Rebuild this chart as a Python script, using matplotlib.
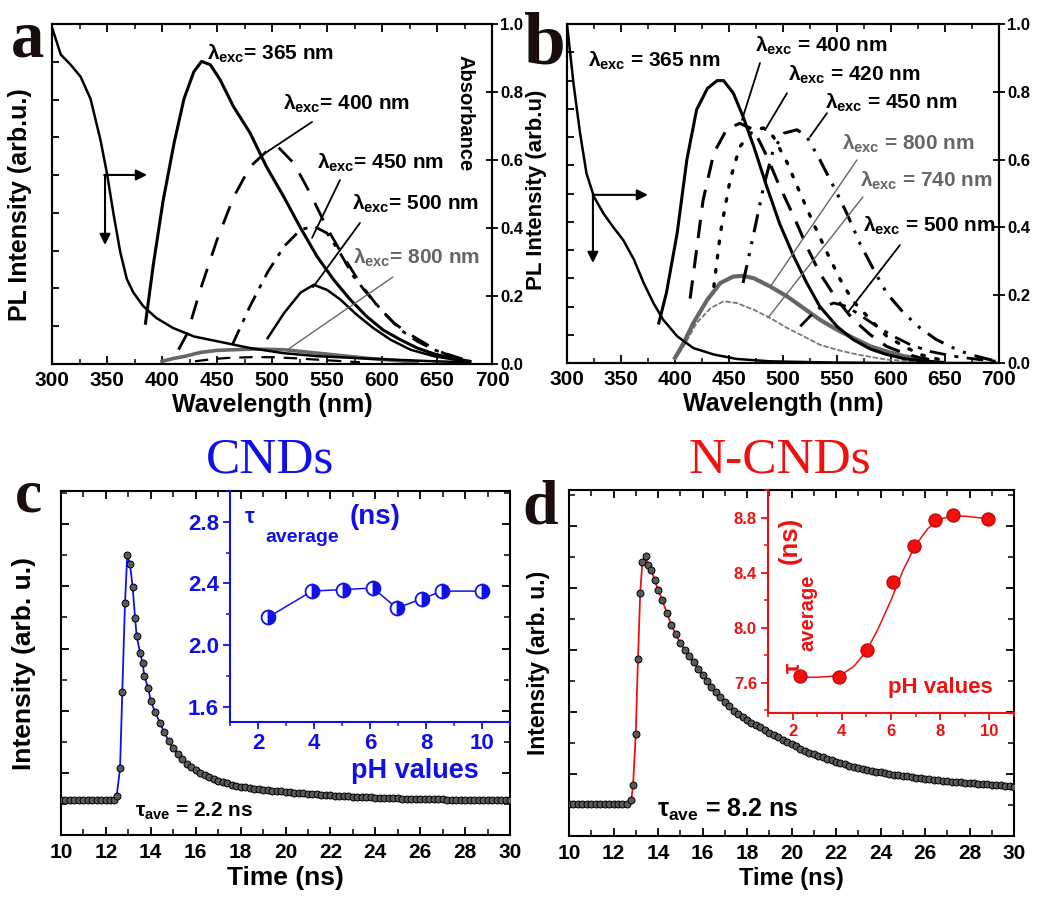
import numpy as np
import matplotlib
matplotlib.use('Agg')
import matplotlib.pyplot as plt
from matplotlib.ticker import MultipleLocator, FormatStrFormatter, NullFormatter

plt.rcParams['font.family'] = ['Liberation Sans', 'DejaVu Sans']
plt.rcParams['font.weight'] = 'bold'
plt.rcParams['axes.labelweight'] = 'bold'
plt.rcParams['mathtext.fontset'] = 'custom'
plt.rcParams['mathtext.rm'] = 'Liberation Sans:bold'
plt.rcParams['mathtext.bf'] = 'Liberation Sans:bold'
plt.rcParams['mathtext.it'] = 'Liberation Sans'
plt.rcParams['axes.linewidth'] = 1.5

# ---------------- panel a: CNDs spectra ----------------
a_abs_wl = [300, 308, 317, 326, 335, 344, 350, 356, 362, 368, 374, 383, 395, 410, 429, 450, 480, 510, 541, 586, 647, 680]
a_abs = [0.99, 0.91, 0.88, 0.845, 0.78, 0.66, 0.56, 0.44, 0.33, 0.25, 0.21, 0.17, 0.135, 0.106, 0.081, 0.067, 0.047, 0.032, 0.023, 0.016, 0.008, 0.005]

a_wl_365 = [385, 392, 401, 411, 420, 429, 436, 444, 453, 465, 480, 495, 511, 526, 541, 556, 571, 586, 601, 617, 632, 647, 662, 680]
a_pl_365 = [0.12, 0.29, 0.48, 0.65, 0.78, 0.86, 0.89, 0.88, 0.835, 0.757, 0.68, 0.58, 0.49, 0.40, 0.316, 0.248, 0.19, 0.14, 0.10, 0.071, 0.047, 0.03, 0.018, 0.008]
a_wl_400 = [415, 423, 435, 450, 465, 480, 495, 505, 520, 535, 550, 565, 580, 596, 611, 626, 641, 656, 671]
a_pl_400 = [0.042, 0.09, 0.22, 0.365, 0.49, 0.58, 0.625, 0.64, 0.59, 0.50, 0.40, 0.316, 0.238, 0.17, 0.12, 0.086, 0.057, 0.032, 0.013]
a_wl_450 = [464, 480, 496, 511, 526, 538, 550, 562, 574, 586, 602, 617, 632, 647, 665, 677]
a_pl_450 = [0.057, 0.17, 0.27, 0.346, 0.395, 0.405, 0.385, 0.326, 0.258, 0.209, 0.15, 0.10, 0.067, 0.042, 0.023, 0.011]
a_wl_500 = [496, 511, 526, 538, 550, 562, 577, 592, 608, 626, 647, 671]
a_pl_500 = [0.076, 0.15, 0.21, 0.233, 0.218, 0.19, 0.145, 0.106, 0.071, 0.042, 0.023, 0.01]
a_wl_800 = [400, 410, 420, 435, 450, 465, 483, 497, 511, 526, 541, 556, 571, 586, 602, 617, 632]
a_pl_800 = [0.008, 0.016, 0.022, 0.034, 0.04, 0.042, 0.044, 0.043, 0.042, 0.037, 0.032, 0.027, 0.022, 0.017, 0.013, 0.009, 0.005]
a_wl_low = [430, 445, 460, 480, 500, 520, 540, 560, 580]
a_pl_low = [0.008, 0.014, 0.018, 0.02, 0.02, 0.017, 0.013, 0.009, 0.005]

# ---------------- panel b: N-CNDs spectra ----------------
b_abs_wl = [300, 306, 312, 318, 325, 334, 343, 352, 362, 371, 380, 389, 402, 417, 436, 457, 488, 534, 596, 700]
b_abs = [1.0, 0.825, 0.68, 0.56, 0.49, 0.44, 0.40, 0.363, 0.305, 0.236, 0.177, 0.128, 0.079, 0.044, 0.025, 0.012, 0.005, 0.002, 0.0, 0.0]

b_wl_365 = [385, 392, 402, 411, 420, 430, 439, 445, 454, 463, 473, 485, 497, 510, 522, 534, 550, 565, 581, 596, 612, 627, 648]
b_pl_365 = [0.118, 0.206, 0.383, 0.60, 0.747, 0.81, 0.833, 0.833, 0.796, 0.727, 0.638, 0.52, 0.41, 0.314, 0.236, 0.167, 0.108, 0.069, 0.041, 0.025, 0.013, 0.007, 0.002]
b_wl_400 = [414, 420, 426, 436, 448, 460, 473, 485, 497, 510, 522, 534, 550, 565, 581, 596, 612, 627, 645]
b_pl_400 = [0.19, 0.334, 0.48, 0.62, 0.69, 0.707, 0.688, 0.61, 0.52, 0.432, 0.344, 0.265, 0.187, 0.128, 0.083, 0.049, 0.029, 0.015, 0.005]
b_wl_420 = [436, 442, 451, 460, 473, 482, 491, 504, 516, 528, 541, 553, 565, 581, 596, 612, 627, 645]
b_pl_420 = [0.226, 0.383, 0.54, 0.638, 0.688, 0.693, 0.668, 0.59, 0.50, 0.413, 0.324, 0.246, 0.182, 0.128, 0.079, 0.049, 0.025, 0.01]
b_wl_450 = [463, 473, 482, 491, 501, 513, 522, 534, 547, 559, 571, 584, 596, 612, 627, 642, 658, 673, 689, 698]
b_pl_450 = [0.236, 0.383, 0.52, 0.629, 0.678, 0.688, 0.668, 0.60, 0.52, 0.442, 0.354, 0.275, 0.206, 0.147, 0.103, 0.069, 0.044, 0.025, 0.012, 0.005]
b_wl_500 = [516, 525, 534, 547, 559, 571, 587, 602, 618, 636, 658, 682, 698]
b_pl_500 = [0.108, 0.138, 0.162, 0.177, 0.167, 0.142, 0.108, 0.079, 0.054, 0.034, 0.02, 0.01, 0.005]
b_wl_800 = [400, 408, 417, 430, 442, 454, 463, 473, 488, 504, 519, 534, 550, 565, 581, 596, 612, 633]
b_pl_800 = [0.015, 0.059, 0.118, 0.187, 0.236, 0.255, 0.257, 0.25, 0.226, 0.196, 0.162, 0.128, 0.098, 0.074, 0.049, 0.034, 0.02, 0.01]
b_wl_740 = [400, 408, 420, 433, 445, 457, 473, 488, 504, 519, 534, 550, 565, 581, 596, 627]
b_pl_740 = [0.01, 0.049, 0.118, 0.162, 0.182, 0.177, 0.157, 0.133, 0.103, 0.079, 0.054, 0.039, 0.0275, 0.018, 0.01, 0.004]

# ---------------- panel c: CNDs decay ----------------
c_t_rise = [10.0, 10.2, 10.4, 10.6, 10.8, 11.0, 11.2, 11.4, 11.6, 11.8, 12.0, 12.2, 12.35,
            12.48, 12.63, 12.73, 12.85, 12.95, 13.07, 13.19, 13.3, 13.37, 13.52, 13.64, 13.71, 13.89]
c_i_rise = [1.12, 1.12, 1.12, 1.12, 1.12, 1.12, 1.12, 1.12, 1.12, 1.12, 1.12, 1.12, 1.13,
            1.25, 2.14, 4.6, 7.45, 9.0, 8.73, 7.98, 6.99, 6.4, 5.87, 5.52, 5.11, 4.72]
# tail, one value every 0.2 ns from 14.0 to 30.0 ns
c_i_tail = [4.30, 3.95, 3.62, 3.30, 3.03, 2.80, 2.60, 2.44, 2.30, 2.19,
            2.08, 2.00, 1.93, 1.86, 1.80, 1.75, 1.70, 1.66, 1.62, 1.59,
            1.56, 1.53, 1.51, 1.49, 1.47, 1.46, 1.44, 1.43, 1.41, 1.40,
            1.38, 1.37, 1.36, 1.35, 1.34, 1.33, 1.32, 1.31, 1.30, 1.29,
            1.28, 1.27, 1.26, 1.25, 1.24, 1.23, 1.23, 1.22, 1.21, 1.21,
            1.20, 1.20, 1.19, 1.19, 1.18, 1.18, 1.17, 1.17, 1.17, 1.16,
            1.16, 1.16, 1.15, 1.15, 1.15, 1.15, 1.14, 1.14, 1.14, 1.14,
            1.14, 1.13, 1.13, 1.13, 1.13, 1.13, 1.13, 1.12, 1.12, 1.12, 1.12]

# ---------------- panel d: N-CNDs decay ----------------
d_t_rise = [10.0, 10.2, 10.4, 10.6, 10.8, 11.0, 11.2, 11.4, 11.6, 11.8, 12.0, 12.2, 12.4, 12.6,
            12.8, 12.88, 13.0, 13.1, 13.2, 13.3, 13.45, 13.55, 13.7, 13.85]
d_i_rise = [1.03, 1.03, 1.03, 1.03, 1.03, 1.03, 1.03, 1.03, 1.03, 1.03, 1.03, 1.03, 1.03, 1.04,
            1.16, 1.65, 3.28, 5.71, 7.83, 8.85, 9.04, 8.74, 8.58, 8.25]
d_i_tail = [7.95, 7.60, 7.18, 6.82, 6.50, 6.24, 6.00, 5.80, 5.60, 5.40,
            5.20, 5.00, 4.82, 4.64, 4.47, 4.32, 4.18, 4.04, 3.92, 3.83,
            3.74, 3.66, 3.58, 3.50, 3.41, 3.32, 3.25, 3.18, 3.10, 3.03,
            2.96, 2.89, 2.82, 2.75, 2.69, 2.63, 2.58, 2.54, 2.49, 2.45,
            2.40, 2.36, 2.32, 2.27, 2.23, 2.20, 2.17, 2.14, 2.11, 2.08,
            2.05, 2.03, 2.00, 1.98, 1.96, 1.94, 1.92, 1.90, 1.88, 1.86,
            1.84, 1.83, 1.81, 1.80, 1.78, 1.77, 1.75, 1.74, 1.73, 1.72,
            1.71, 1.70, 1.69, 1.68, 1.67, 1.66, 1.65, 1.64, 1.62, 1.61, 1.59]
t_tail = np.round(np.arange(14.0, 30.001, 0.2), 1)

# ---------------- insets: lifetime vs pH ----------------
ph_c = [2.36, 3.93, 5.04, 6.1, 6.96, 7.86, 8.57, 10.0]
tau_c = [2.18, 2.35, 2.36, 2.37, 2.24, 2.30, 2.35, 2.35]
ph_d = [2.3, 3.87, 5.04, 6.1, 6.94, 7.77, 8.52, 9.94]
tau_d = [7.65, 7.64, 7.84, 8.33, 8.59, 8.78, 8.82, 8.79]
fit_ph_d = [2.3, 3.0, 3.5, 4.0, 4.5, 5.0, 5.5, 6.0, 6.5, 7.0, 7.5, 8.0, 8.5, 9.0, 9.5, 10.0]
fit_tau_d = [7.64, 7.64, 7.645, 7.66, 7.72, 7.83, 8.0, 8.2, 8.42, 8.6, 8.72, 8.79, 8.81, 8.81, 8.80, 8.79]

BLUE = '#1010e8'
RED = '#f01010'
GREY = '#666666'

W, H = 1038, 902
fig = plt.figure(figsize=(W / 100, H / 100), dpi=100)


def axes_px(l, t, r, b):
    return fig.add_axes([l / W, 1 - b / H, (r - l) / W, (b - t) / H])


def bold_ticks(ax):
    for lab in ax.get_xticklabels() + ax.get_yticklabels():
        lab.set_fontweight('bold')


def spectrum_axes(ax, nleft):
    ax.set_xlim(300, 700)
    ax.set_ylim(0, 1)
    ax.xaxis.set_major_locator(MultipleLocator(50))
    ax.xaxis.set_minor_locator(MultipleLocator(25))
    ax.set_yticks(np.arange(1, nleft) / nleft)
    ax.yaxis.set_major_formatter(NullFormatter())
    ax.tick_params(axis='x', which='both', direction='in', top=True, labelsize=15, pad=5)
    ax.tick_params(axis='x', which='major', length=6, width=1.3)
    ax.tick_params(axis='x', which='minor', length=3.5, width=1.1)
    ax.tick_params(axis='y', direction='in', right=False, length=5, width=1.3)
    ax.set_xlabel('Wavelength (nm)', fontsize=18, labelpad=2)
    ax2 = ax.twinx()
    ax2.set_ylim(0, 1)
    ax2.yaxis.set_major_locator(MultipleLocator(0.2))
    ax2.yaxis.set_minor_locator(MultipleLocator(0.1))
    ax2.yaxis.set_major_formatter(FormatStrFormatter('%.1f'))
    ax2.tick_params(axis='y', which='major', direction='inout', length=8, width=1.3, labelsize=12, pad=2)
    ax2.tick_params(axis='y', which='minor', direction='in', length=0)
    bold_ticks(ax)
    bold_ticks(ax2)
    return ax2


def lam(ax, x, y, nm, color='k'):
    ax.text(x, y, r'$\lambda_{\mathbf{exc}}$' + nm, fontsize=15, color=color,
            ha='left', va='baseline')


def pointer(ax, p0, p1, color='k', lw=1.3):
    ax.annotate('', xy=p1, xytext=p0,
                arrowprops=dict(arrowstyle='-', color=color, lw=lw, shrinkA=0, shrinkB=0))


def arrow(ax, p0, p1):
    ax.annotate('', xy=p1, xytext=p0,
                arrowprops=dict(arrowstyle='-|>', color='k', lw=1.5, mutation_scale=16,
                                shrinkA=0, shrinkB=0))


# ---- a ----
axa = axes_px(52, 24, 492, 364)
axa2 = spectrum_axes(axa, 9)
axa.plot(a_wl_800, a_pl_800, color=GREY, lw=2.6)
axa.plot(a_wl_low, a_pl_low, color='k', lw=1.6, ls=(0, (6, 4)))
axa.plot(a_wl_365, a_pl_365, color='k', lw=2.2)
axa.plot(a_wl_400, a_pl_400, color='k', lw=2.0, ls=(0, (7, 5)))
axa.plot(a_wl_450, a_pl_450, color='k', lw=2.0, ls=(0, (6, 3, 1.5, 3)))
axa.plot(a_wl_500, a_pl_500, color='k', lw=1.8)
axa2.plot(a_abs_wl, a_abs, color='k', lw=1.8)
axa.set_ylabel('PL Intensity (arb.u.)', fontsize=18)
axa.yaxis.set_label_coords(-0.045, 0.47)
lam(axa, 441, 0.894, '= 365 nm')
lam(axa, 510, 0.747, '= 400 nm')
lam(axa, 541, 0.574, '= 450 nm')
lam(axa, 573, 0.453, '= 500 nm')
lam(axa, 574, 0.294, '= 800 nm', GREY)
pointer(axa, (536.4, 0.712), (495.5, 0.624))
pointer(axa, (561.8, 0.541), (536.4, 0.371))
pointer(axa, (580, 0.415), (537.3, 0.226))
pointer(axa, (610, 0.256), (513.6, 0.041), GREY, 1.0)
arrow(axa, (347.5, 0.556), (386.4, 0.556))
arrow(axa, (348.2, 0.556), (348.2, 0.35))
axa.text(675.5, 0.738, 'Absorbance', rotation=-90, fontsize=14.5, ha='center', va='center')

# ---- b ----
axb = axes_px(567, 24, 999, 363)
axb2 = spectrum_axes(axb, 12)
axb.plot(b_wl_740, b_pl_740, color='#777777', lw=1.3, ls=(0, (3, 1)))
axb.plot(b_wl_800, b_pl_800, color=GREY, lw=3.0)
axb.plot(b_wl_365, b_pl_365, color='k', lw=2.2)
axb.plot(b_wl_400, b_pl_400, color='k', lw=2.2, ls=(0, (6, 4)))
axb.plot(b_wl_420, b_pl_420, color='k', lw=2.4, ls=(0, (0.8, 3.5)), dash_capstyle='round')
axb.plot(b_wl_450, b_pl_450, color='k', lw=2.2, ls=(0, (6, 3, 1, 3, 1, 3)))
axb.plot(b_wl_500, b_pl_500, color='k', lw=2.0, ls=(0, (6, 3, 1.5, 3)))
axb2.plot(b_abs_wl, b_abs, color='k', lw=1.8)
axb.set_ylabel('PL Intensity (arb.u)', fontsize=16)
axb.yaxis.set_label_coords(-0.047, 0.51)
lam(axb, 319.4, 0.873, ' = 365 nm')
lam(axb, 474, 0.917, ' = 400 nm')
lam(axb, 504.6, 0.832, ' = 420 nm')
lam(axb, 538.9, 0.749, ' = 450 nm')
lam(axb, 554.6, 0.628, ' = 800 nm', GREY)
lam(axb, 571.3, 0.519, ' = 740 nm', GREY)
lam(axb, 574, 0.386, ' = 500 nm')
pointer(axb, (478.7, 0.885), (462, 0.717))
pointer(axb, (503.7, 0.796), (483.3, 0.687))
pointer(axb, (540.7, 0.737), (525, 0.667))
pointer(axb, (568.5, 0.599), (488, 0.224), GREY, 1.0)
pointer(axb, (574, 0.49), (486, 0.133), GREY, 1.0)
pointer(axb, (608.3, 0.348), (560.2, 0.15))
arrow(axb, (324, 0.496), (375, 0.496))
arrow(axb, (324, 0.496), (324, 0.295))


# ---- c and d ----
def decay_axes(ax, ymax):
    ax.set_xlim(10, 30)
    ax.set_ylim(0, ymax)
    ax.xaxis.set_major_locator(MultipleLocator(2))
    ax.xaxis.set_minor_locator(MultipleLocator(1))
    ax.yaxis.set_major_locator(MultipleLocator(2))
    ax.yaxis.set_minor_locator(MultipleLocator(1))
    ax.yaxis.set_major_formatter(NullFormatter())
    ax.tick_params(which='both', direction='in', top=True, right=True, labelsize=15, pad=6)
    ax.tick_params(which='major', length=6, width=1.3)
    ax.tick_params(which='minor', length=4, width=1.1)
    bold_ticks(ax)


axc = axes_px(61, 491, 510, 835)
decay_axes(axc, 11.07)
tc = list(c_t_rise) + list(t_tail)
ic = list(c_i_rise) + list(c_i_tail)
axc.plot(tc, ic, color=BLUE, lw=1.3, zorder=2)
axc.plot(tc, ic, ls='none', marker='o', ms=5, mfc='#5a5a5a', mec='k', mew=0.7, zorder=3)
axc.set_xlabel('Time (ns)', fontsize=19, labelpad=3)
axc.set_ylabel('Intensity (arb. u.)', fontsize=19)
axc.yaxis.set_label_coords(-0.056, 0.5)
axc.text(13.3, 0.58, r'$\tau_{\mathbf{ave}}$ = 2.2 ns', fontsize=15, ha='left', va='baseline')

axd = axes_px(569, 490, 1014, 836)
decay_axes(axd, 11.16)
td = list(d_t_rise) + list(t_tail)
idd = list(d_i_rise) + list(d_i_tail)
axd.plot(td, idd, color=RED, lw=1.3, zorder=2)
axd.plot(td, idd, ls='none', marker='o', ms=5, mfc='#5a5a5a', mec='k', mew=0.7, zorder=3)
axd.set_xlabel('Time (ns)', fontsize=17, labelpad=3)
axd.set_ylabel('Intensity (arb. u.)', fontsize=16.5)
axd.yaxis.set_label_coords(-0.043, 0.5)
axd.text(13.96, 0.61, r'$\tau_{\mathbf{ave}}$ = 8.2 ns', fontsize=18, ha='left', va='baseline')


def inset_axes(ax, color, ylo, yhi, ystep, labelsize):
    ax.patch.set_alpha(0)
    ax.set_xlim(1, 11)
    ax.set_ylim(ylo, yhi)
    for s in ('top', 'right'):
        ax.spines[s].set_visible(False)
    for s in ('left', 'bottom'):
        ax.spines[s].set_color(color)
        ax.spines[s].set_linewidth(1.5)
    ax.xaxis.set_major_locator(MultipleLocator(2))
    ax.xaxis.set_minor_locator(MultipleLocator(1))
    ax.yaxis.set_major_locator(MultipleLocator(ystep))
    ax.yaxis.set_minor_locator(MultipleLocator(ystep / 2))
    ax.yaxis.set_major_formatter(FormatStrFormatter('%.1f'))
    ax.tick_params(which='both', direction='out', colors=color, labelsize=labelsize, pad=3)
    ax.tick_params(which='major', length=5, width=1.3)
    ax.tick_params(which='minor', length=3, width=1.1)
    bold_ticks(ax)


ins_c = axes_px(230, 491, 510, 722)
inset_axes(ins_c, BLUE, 1.5, 3.0, 0.4, 16)
ins_c.plot(ph_c, tau_c, color=BLUE, lw=1.1, marker='o', ms=10, fillstyle='right',
           mfc=BLUE, mfcalt='white', mec=BLUE, mew=1.3, clip_on=False)
ins_c.text(1.71, 2.825, r'$\tau$', color=BLUE, fontsize=16, ha='center', va='center')
ins_c.text(2.25, 2.70, 'average', color=BLUE, fontsize=14, ha='left', va='center')
ins_c.text(5.29, 2.83, '(ns)', color=BLUE, fontsize=20, ha='left', va='center')
ins_c.text(7.6, 1.185, 'pH values', color=BLUE, fontsize=19.5, ha='center', va='center')

ins_d = axes_px(768, 490, 1014, 713)
inset_axes(ins_d, RED, 7.38, 9.0, 0.4, 12)
ins_d.plot(fit_ph_d, fit_tau_d, color=RED, lw=1.1)
ins_d.plot(ph_d, tau_d, ls='none', marker='o', ms=9.5, mfc=RED, mec='#c00000', mew=0.8, clip_on=False)
ins_d.text(1.89, 8.63, '(ns)', color=RED, fontsize=18.5, rotation=90, ha='center', va='center')
ins_d.text(2.63, 8.11, 'average', color=RED, fontsize=14.5, rotation=90, ha='center', va='center')
ins_d.text(2.02, 7.705, r'$\tau$', color=RED, fontsize=17, rotation=90, ha='center', va='center')
ins_d.text(7.99, 7.568, 'pH values', color=RED, fontsize=16, ha='center', va='center')

# ---- titles and panel letters ----
fig.text(270 / W, 1 - 460 / H, 'CNDs', color=BLUE, fontsize=37, family='Liberation Serif',
         weight='normal', ha='center', va='center')
fig.text(780 / W, 1 - 460 / H, 'N-CNDs', color=RED, fontsize=37, family='Liberation Serif',
         weight='normal', ha='center', va='center')
for letter, x, y, size in [('a', 28, 40, 48), ('b', 545, 45, 54), ('c', 28, 497, 44), ('d', 540, 508, 46)]:
    fig.text(x / W, 1 - y / H, letter, color='#1a0d0d', fontsize=size, family='Liberation Serif',
             weight='bold', ha='center', va='center')

fig.savefig('out.png', dpi=100)
